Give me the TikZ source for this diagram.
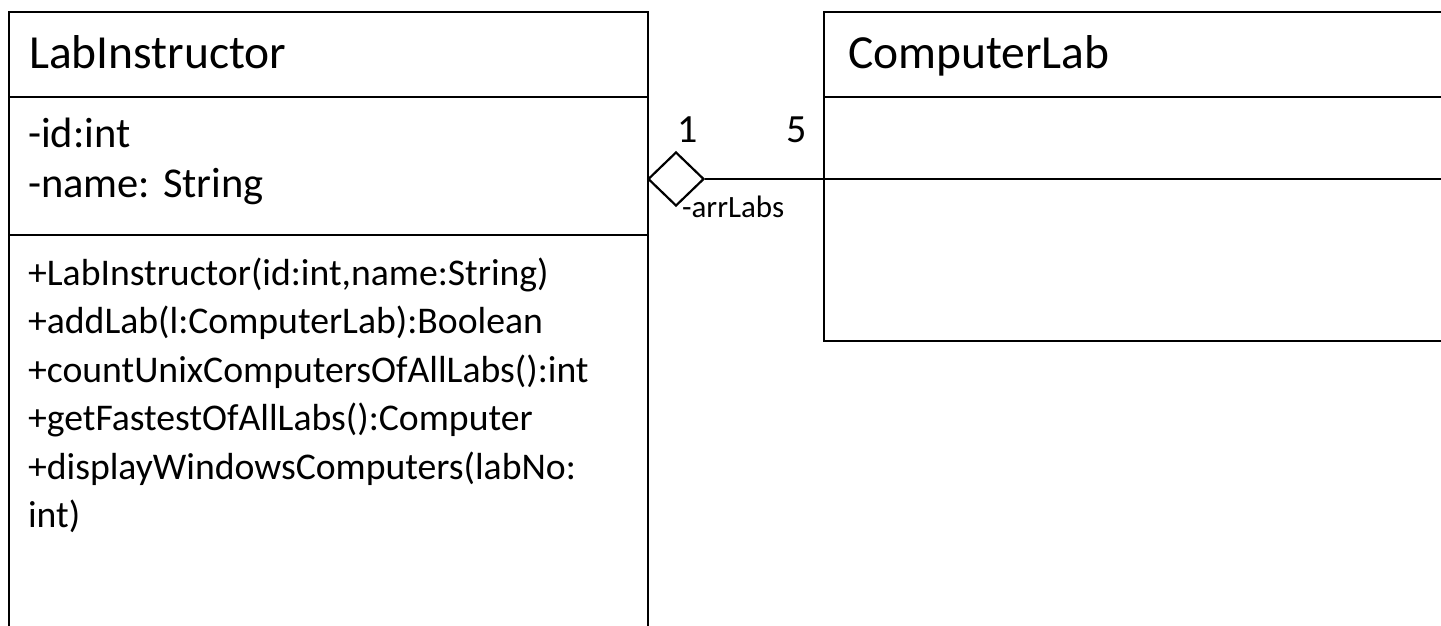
\documentclass[tikz,border=0pt]{standalone}
\usepackage{fontspec}
\setmainfont{Carlito}
\usetikzlibrary{positioning,shapes.geometric}

\tikzset{
	classtitle/.style={anchor=base west, inner sep=0pt, font=\fontsize{47.5}{56}\selectfont},
	attrline/.style={anchor=base west, inner sep=0pt, font=\fontsize{42.5}{50}\selectfont},
	methline/.style={anchor=base west, inner sep=0pt, font=\fontsize{37.7}{45}\selectfont},
	multlabel/.style={anchor=base, inner sep=0pt, font=\fontsize{40}{48}\selectfont},
	rolelabel/.style={anchor=base west, inner sep=0pt, font=\fontsize{31}{37}\selectfont},
	aggdiamond/.style={draw, diamond, inner sep=0pt, minimum width=56, minimum height=54}
}

\begin{document}
\begin{tikzpicture}[x=1pt, y=-1pt, line width=2.2pt]
		\useasboundingbox (0,0) rectangle (1441,625);
		\clip (0,0) rectangle (1441,625);
		
		% LabInstructor
		\draw[] (9,12) rectangle (648,660);
		\draw[] (9,97) -- (648,97);
		\draw[] (9,235) -- (648,235);
		\node[classtitle] (li) at (28,68) {LabInstructor};
		\node[attrline] (liid) at (27,147) {-id:int};
		\node[attrline] (liname) at (27,197) {-name: String};
		\foreach \txt [count=\i from 0] in {{+LabInstructor(id:int,name:String)},
			{+addLab(l:ComputerLab):Boolean},
			{+countUnixComputersOfAllLabs():int},
			{+getFastestOfAllLabs():Computer},
			{+displayWindowsComputers(labNo:},
			{int)}}
		\node[methline] (lim\i) at (27,285+48.5*\i) {\txt};
		
		% ComputerLab
		\draw[] (824,12) rectangle (1460,341);
		\draw[] (824,97) -- (1460,97);
		\coordinate (clw) at (824,179);
		\draw[] (clw) -- (1460,179);
		\node[classtitle] (cl) at (847,68) {ComputerLab};
		
		% aggregation
		\node[aggdiamond] (agg) at (676,179) {};
		\draw[] (agg.east) -- (clw);
		\node[multlabel] (m1) at (688,142) {1};
		\node[multlabel] (m5) at (797,142) {5};
		\node[rolelabel] (role) at (681,217) {-arrLabs};
	\end{tikzpicture}
\end{document}
